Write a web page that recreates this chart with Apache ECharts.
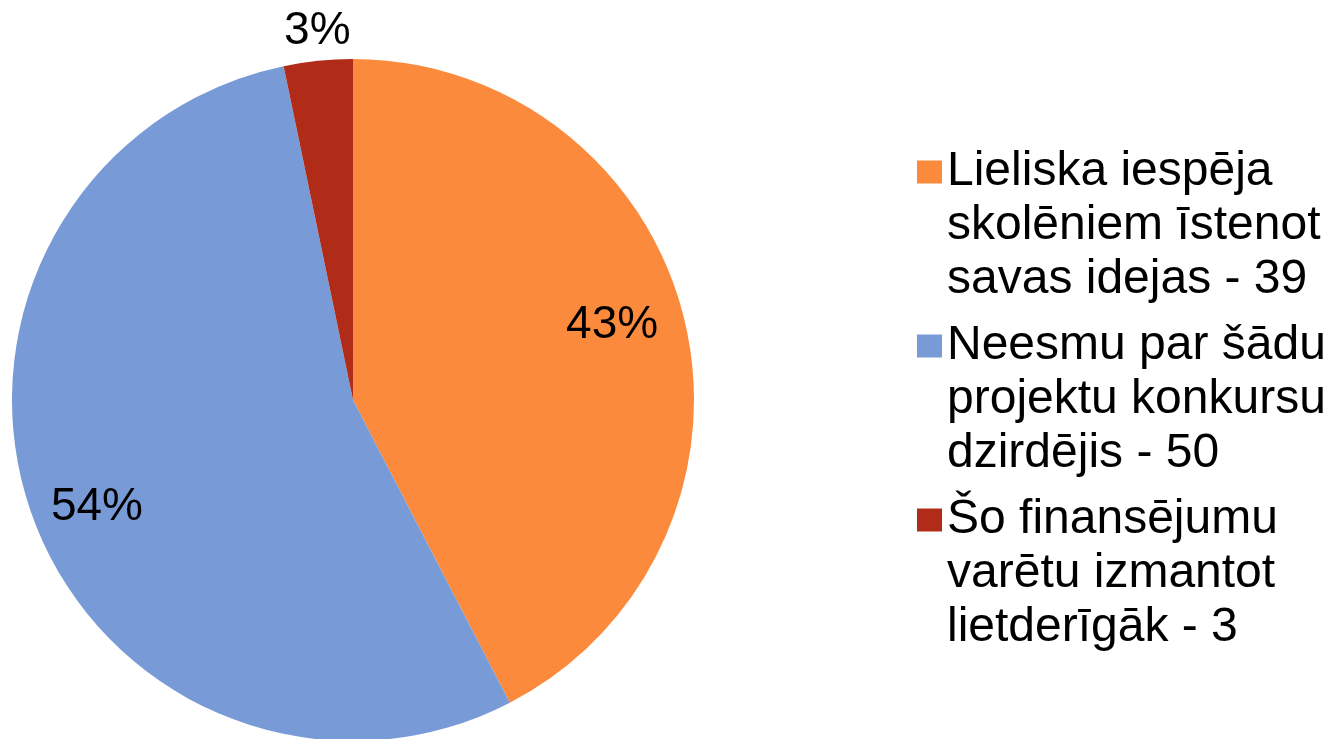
<!DOCTYPE html>
<html>
<head>
<meta charset="utf-8">
<script src="https://cdn.jsdelivr.net/npm/echarts@6/dist/echarts.min.js"></script>
<style>
html,body{margin:0;padding:0;background:#fff;}
#chart{width:1333px;height:739px;}
</style>
</head>
<body>
<div id="chart"></div>
<script>
const categories = [
  "Lieliska iespēja\nskolēniem īstenot\nsavas idejas - 39",
  "Neesmu par šādu\nprojektu konkursu\ndzirdējis - 50",
  "Šo finansējumu\nvarētu izmantot\nlietderīgāk - 3"
];
const values = [39, 50, 3];
const colors = ['#FB8A3C', '#789BD8', '#B12C18'];
// which labels sit inside (true) or outside (false)
const labelInside = [true, true, false];
// small nudges of the percentage labels (style only)
const labelNudge = [[-9, -9], [4, 15], [2, -3]];

const baseData = categories.map((n, i) => ({ name: n, value: values[i], itemStyle: { color: colors[i] } }));

function overlay(radius, showFn) {
  return {
    type: 'pie',
    center: [353, 400],
    radius: radius,
    startAngle: 90,
    clockwise: true,
    silent: true,
    percentPrecision: 0,
    avoidLabelOverlap: false,
    labelLine: { show: false },
    itemStyle: { color: 'rgba(0,0,0,0)', borderWidth: 0 },
    emphasis: { disabled: true },
    legendHoverLink: false,
    data: categories.map((n, i) => ({
      name: n, value: values[i],
      itemStyle: { color: 'rgba(0,0,0,0)' },
      label: { show: showFn(i), offset: labelNudge[i] }
    })),
    label: {
      position: 'inside',
      formatter: '{d}%',
      fontFamily: 'Liberation Sans, Arial, sans-serif',
      fontSize: 46,
      color: '#000'
    }
  };
}

const chart = echarts.init(document.getElementById('chart'), null, { renderer: 'canvas' });
chart.setOption({
  animation: false,
  backgroundColor: '#fff',
  legend: {
    orient: 'vertical',
    left: 917,
    top: 37,
    padding: 0,
    itemGap: -96,
    itemWidth: 25,
    itemHeight: 23,
    icon: 'rect',
    selectedMode: false,
    data: categories,
    // two empty leading lines so the first text line is level with the swatch
    formatter: name => '\n\n' + name,
    textStyle: {
      fontFamily: 'Liberation Sans, Arial, sans-serif',
      fontSize: 48,
      lineHeight: 54,
      color: '#000'
    }
  },
  series: [
    {
      type: 'pie',
      center: [353, 400],
      radius: [0, 341],
      startAngle: 90,
      clockwise: true,
      label: { show: false },
      labelLine: { show: false },
      emphasis: { disabled: true },
      itemStyle: { borderWidth: 0 },
      data: baseData
    },
    overlay([205, 341], i => labelInside[i]),
    overlay([341, 389], i => !labelInside[i])
  ]
});
</script>
</body>
</html>
